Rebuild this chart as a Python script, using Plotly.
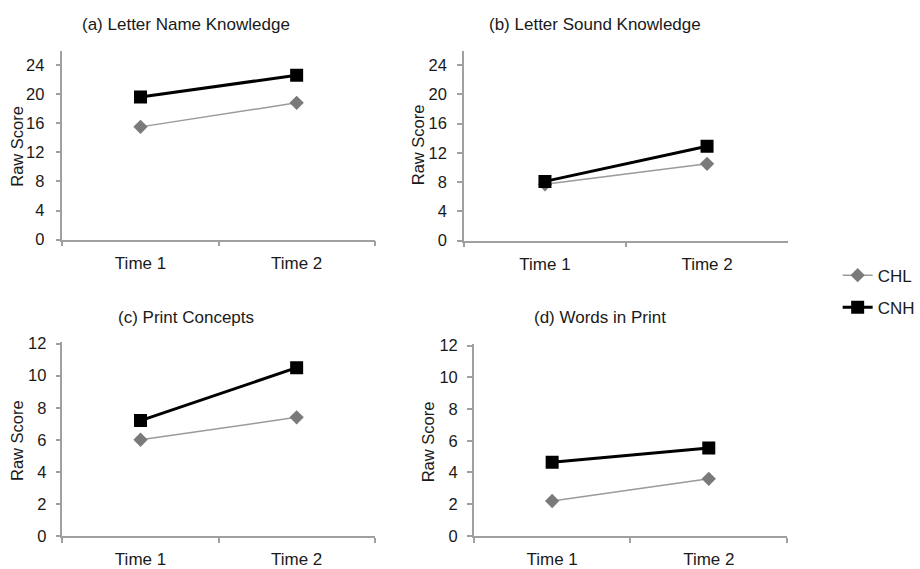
import plotly.graph_objects as go

W, H = 920, 569

times = ["Time 1", "Time 2"]
panel_titles = ["(a) Letter Name Knowledge", "(b) Letter Sound Knowledge",
                "(c) Print Concepts", "(d) Words in Print"]
chl_a = [15.5, 18.8]
cnh_a = [19.6, 22.6]
chl_b = [7.7, 10.5]
cnh_b = [8.1, 12.9]
chl_c = [6.0, 7.4]
cnh_c = [7.2, 10.5]
chl_d = [2.2, 3.6]
cnh_d = [4.65, 5.55]
y_ticks_top = [0, 4, 8, 12, 16, 20, 24]
y_ticks_bottom = [0, 2, 4, 6, 8, 10, 12]

chl = [chl_a, chl_b, chl_c, chl_d]
cnh = [cnh_a, cnh_b, cnh_c, cnh_d]

# vertical calibration of the photographed page (observed offset/scale)
Y_OFF, Y_SCALE = 7.7, 0.971

def px(x):
    return x / W

def py(y):
    return 1 - ((y - Y_OFF) / Y_SCALE) / H

# target plot areas in picture pixels: (left, right, top, bottom)
areas = [(63, 378, 51, 240), (468, 795, 51, 241),
         (63, 378, 343, 537), (478, 794, 345, 537)]
ranges = [[0, 25.9], [0, 25.9], [0, 12.08], [0, 12.08]]
ticks = [y_ticks_top, y_ticks_top, y_ticks_bottom, y_ticks_bottom]
ystandoff = [8, 7, 6, 6]
title_pos = [(188, 24), (600, 24), (188, 318), (605, 318)]
ytitle_pos = [(17, 146), (422, 145), (17, 441), (432, 443)]

FONT = "Liberation Sans, Arial, sans-serif"
CHL_COLOR = "#7a7a7a"
CHL_LINE = "#9a9a9a"
AXIS_COLOR = "#a0a0a0"
TXT = "#1a1a1a"

fig = go.Figure()
for i in range(4):
    sfx = "" if i == 0 else str(i + 1)
    fig.add_trace(go.Scatter(
        x=times, y=chl[i], mode="lines+markers", name="CHL",
        line=dict(color=CHL_LINE, width=1.5),
        marker=dict(symbol="diamond", size=11, color=CHL_COLOR),
        xaxis="x" + sfx, yaxis="y" + sfx,
        showlegend=(i == 0), legendgroup="CHL"))
    fig.add_trace(go.Scatter(
        x=times, y=cnh[i], mode="lines+markers", name="CNH",
        line=dict(color="black", width=3),
        marker=dict(symbol="square", size=13, color="black"),
        xaxis="x" + sfx, yaxis="y" + sfx,
        showlegend=(i == 0), legendgroup="CNH"))

layout = dict(
    width=W, height=H,
    margin=dict(l=0, r=0, t=0, b=0),
    paper_bgcolor="white", plot_bgcolor="white",
    font=dict(family=FONT, size=17, color=TXT),
    showlegend=True,
    legend=dict(x=px(845), y=py(258), xanchor="left", yanchor="top",
                font=dict(size=17, color=TXT),
                tracegroupgap=7, traceorder="grouped",
                itemwidth=30, bgcolor="rgba(0,0,0,0)", borderwidth=0),
    annotations=[],
)

for i in range(4):
    sfx = "" if i == 0 else str(i + 1)
    l, r, t, b = areas[i]
    layout["xaxis" + sfx] = dict(
        domain=[px(l), px(r)], anchor="y" + sfx, type="category",
        range=[-0.5, 1.5], showline=True, linecolor=AXIS_COLOR, linewidth=1.5,
        ticks="outside", tickson="boundaries", ticklen=5, tickcolor=AXIS_COLOR,
        tickwidth=1.5, showgrid=False, zeroline=False,
        tickfont=dict(size=17, color=TXT), ticklabelstandoff=7,
        fixedrange=True)
    layout["yaxis" + sfx] = dict(
        domain=[py(b), py(t)], anchor="x" + sfx, range=ranges[i],
        tickvals=ticks[i], showline=True, linecolor=AXIS_COLOR, linewidth=1.5,
        ticks="outside", ticklen=5, tickcolor=AXIS_COLOR, tickwidth=1.5,
        showgrid=False, zeroline=False,
        tickfont=dict(size=16.5, color=TXT), ticklabelstandoff=ystandoff[i],
        fixedrange=True)
    tx, ty = title_pos[i]
    layout["annotations"].append(dict(
        text=panel_titles[i], x=px(tx), y=py(ty), xref="paper", yref="paper",
        xanchor="center", yanchor="middle", showarrow=False,
        font=dict(size=17, color=TXT)))
    ax, ay = ytitle_pos[i]
    layout["annotations"].append(dict(
        text="Raw Score", x=px(ax), y=py(ay), xref="paper", yref="paper",
        xanchor="center", yanchor="middle", showarrow=False, textangle=-90,
        font=dict(size=16.5, color=TXT)))

fig.update_layout(**layout)

PIN = (
    "document.documentElement.style.margin='0';"
    "document.documentElement.style.padding='0';"
    "document.body.style.margin='0';"
    "document.body.style.padding='0';"
    "document.body.style.overflow='hidden';"
    "var gd=document.querySelector('.plotly-graph-div');"
    "gd.style.position='fixed';gd.style.left='0px';gd.style.top='0px';"
)
fig.write_html("out.html", config={"displayModeBar": False}, post_script=PIN)
